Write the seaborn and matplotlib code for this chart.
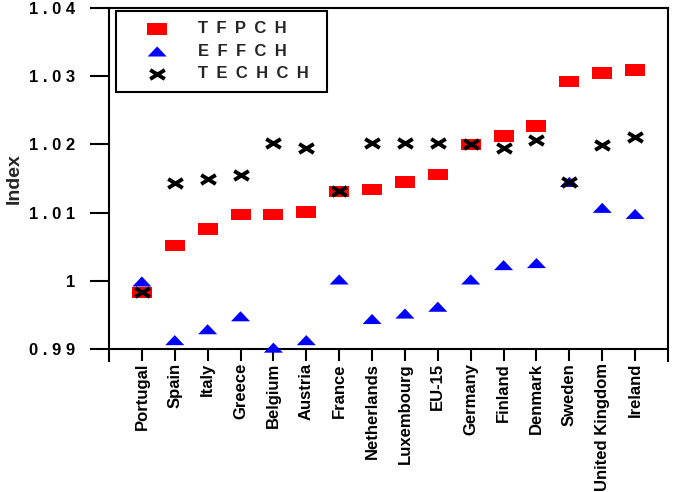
import matplotlib
matplotlib.use("Agg")
import matplotlib.pyplot as plt
from matplotlib.markers import MarkerStyle
from matplotlib.transforms import Affine2D
import seaborn as sns

# Data
countries = ['Portugal', 'Spain', 'Italy', 'Greece', 'Belgium', 'Austria', 'France',
             'Netherlands', 'Luxembourg', 'EU-15', 'Germany', 'Finland', 'Denmark',
             'Sweden', 'United Kingdom', 'Ireland']
tfpch = [0.9983, 1.0052, 1.0076, 1.0097, 1.0097, 1.0101, 1.0131, 1.0134, 1.0145,
         1.0156, 1.0200, 1.0212, 1.0227, 1.0292, 1.0305, 1.0309]
effch = [0.9999, 0.9913, 0.9929, 0.9948, 0.9902, 0.9913, 1.0002, 0.9944, 0.9952,
         0.9962, 1.0002, 1.0023, 1.0026, 1.0145, 1.0107, 1.0098]
techch = [0.9983, 1.0143, 1.0149, 1.0155, 1.0202, 1.0194, 1.0131, 1.0202, 1.0202,
          1.0202, 1.0200, 1.0195, 1.0206, 1.0145, 1.0199, 1.0211]

series_labels = ['T\u2002F\u2002P\u2002C\u2002H', 'E\u2002F\u2002F\u2002C\u2002H',
                 'T\u2002E\u2002C\u2002H\u2002C\u2002H']
y_ticks = [0.99, 1.00, 1.01, 1.02, 1.03, 1.04]
y_tick_labels = ['0 . 9 9', '1', '1 . 0 1', '1 . 0 2', '1 . 0 3', '1 . 0 4']

sns.set_style("white")
plt.rcParams['font.family'] = ['Liberation Sans', 'DejaVu Sans']
plt.rcParams['font.weight'] = 'bold'

# Marker shapes: flat rectangle, flat triangle, squashed cross
rect = MarkerStyle([(-1, -0.58), (1, -0.58), (1, 0.58), (-1, 0.58), (-1, -0.58)])
tri = MarkerStyle([(-1, -0.53), (1, -0.53), (0, 0.53), (-1, -0.53)])
cross = MarkerStyle('x', transform=Affine2D().scale(1.0, 0.62))

fig = plt.figure(figsize=(6.76, 4.92), dpi=100)
ax = fig.add_axes([109 / 676, 1 - 361 / 492, 559 / 676, 353 / 492])

sns.scatterplot(x=countries, y=tfpch, marker=rect, s=207, color='#ff0000',
                edgecolor='none', linewidth=0, label=series_labels[0], ax=ax, zorder=3)
sns.scatterplot(x=countries, y=effch, marker=tri, s=188, color='#0000ff',
                edgecolor='none', linewidth=0, label=series_labels[1], ax=ax, zorder=4)
sns.scatterplot(x=countries, y=techch, marker=cross, s=110, color='black',
                linewidth=2.8, label=series_labels[2], ax=ax, zorder=5)

ax.set_xlim(-1, len(countries))
ax.set_ylim(0.99 - 12 / 6820, 1.04)
ax.set_yticks(y_ticks)
ax.set_yticklabels(y_tick_labels)
ax.set_xticks(range(len(countries)))
ax.set_xticklabels(countries, rotation=90, ha='center', fontweight='bold')

for side in ['left', 'right', 'top']:
    ax.spines[side].set_visible(True)
    ax.spines[side].set_linewidth(1.5)
    ax.spines[side].set_color('black')
ax.spines['bottom'].set_visible(False)
ax.axhline(0.99, color='black', linewidth=1.5, zorder=2, clip_on=False)

ax.tick_params(axis='y', left=True, direction='out', length=13.7, width=1.5,
               pad=10.5, labelsize=12, colors='black')
ax.tick_params(axis='x', bottom=True, direction='in', length=8.6, width=1.5,
               pad=1.5, labelsize=12, colors='black')
ax.grid(False)

ax.set_xlabel('')
ax.set_ylabel('Index', fontsize=14, fontweight='bold')
ax.yaxis.set_label_coords(-0.155, 0.5156)

leg = ax.legend(loc='upper left', bbox_to_anchor=(0.0125, 0.7705, 0.378, 0.221),
                mode='expand', borderaxespad=0, fontsize=12, frameon=True,
                fancybox=False, framealpha=1, edgecolor='black', borderpad=0.62,
                labelspacing=0.45, handlelength=3.7, handletextpad=0.6,
                markerscale=1.0, scatterpoints=1)
leg.get_frame().set_linewidth(1.5)

fig.savefig('out.png', dpi=100)
